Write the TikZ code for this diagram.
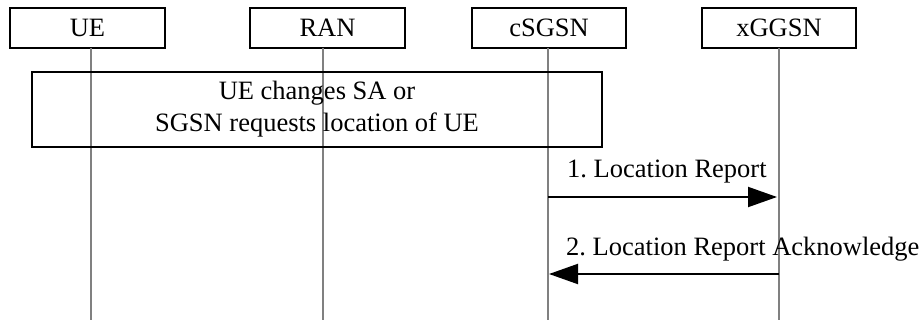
\documentclass[tikz,border=0pt]{standalone}
\usepackage{fontspec}
\setmainfont{Liberation Serif}
\usetikzlibrary{arrows.meta}
\frenchspacing
\begin{document}
\begin{tikzpicture}[x=1pt,y=-1pt,
  every node/.style={font=\fontsize{26.5}{32}\selectfont, inner sep=0pt},
  entity/.style={draw=black, line width=1.5pt, minimum height=40pt},
  lifeline/.style={draw=black!50, line width=1.3pt},
  msg/.style={draw=black, line width=2pt, -{Triangle[length=29pt,width=20pt]}},
  lbl/.style={anchor=base west}]
\useasboundingbox (0,0) rectangle (923,320);
% header boxes
\node[entity, minimum width=155pt] (ue) at (87.5,28) {UE};
\node[entity, minimum width=155pt] (ran) at (327.5,28) {RAN};
\node[entity, minimum width=154pt] (sgsn) at (549,28) {cSGSN};
\node[entity, minimum width=154pt] (ggsn) at (779,28) {xGGSN};
% lifeline end points
\coordinate (ueT) at (91,48);   \coordinate (ueB) at (91,320);
\coordinate (ranT) at (323,48); \coordinate (ranB) at (323,320);
\coordinate (sgT) at (548,48);  \coordinate (sgB) at (548,320);
\coordinate (ggT) at (779,48);  \coordinate (ggB) at (779,320);
\draw[lifeline] (ueT) -- (ueB);
\draw[lifeline] (ranT) -- (ranB);
\draw[lifeline] (sgT) -- (sgB);
\draw[lifeline] (ggT) -- (ggB);
% big box
\node[draw=black, line width=1.5pt, minimum width=570pt, minimum height=75pt, align=center] (sa) at (317,109.5)
  {UE changes SA or\\SGSN requests location of UE};
% messages
\coordinate (m1s) at (548,197); \coordinate (m1e) at (777,197);
\coordinate (m2s) at (779,274); \coordinate (m2e) at (549,274);
\draw[msg] (m1s) -- (m1e);
\draw[msg] (m2s) -- (m2e);
\node[lbl] (l1) at (567,178) {1. Location Report};
\node[lbl] (l2) at (566,255) {2. Location Report Acknowledge};
\end{tikzpicture}
\end{document}
